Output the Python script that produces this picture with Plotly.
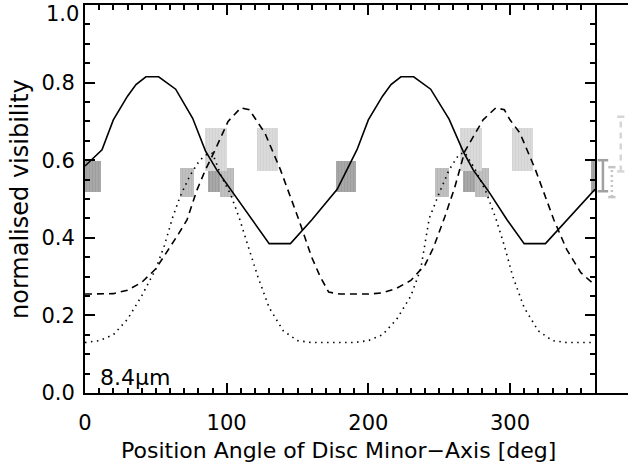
import plotly.graph_objects as go

# ---------------- data ----------------
solid_pa = [0, 12, 20, 30, 36, 43, 52, 64, 76, 85, 93, 104, 118, 130, 145, 160, 178, 180,
            192, 200, 210, 216, 223, 232, 244, 257, 267, 274, 285, 298, 310, 325, 340, 358, 360]
solid_v = [0.585, 0.627, 0.704, 0.765, 0.795, 0.815, 0.815, 0.783, 0.708, 0.624, 0.575, 0.519, 0.446, 0.385, 0.385, 0.446, 0.525, 0.54,
           0.627, 0.704, 0.765, 0.795, 0.815, 0.815, 0.783, 0.706, 0.622, 0.575, 0.519, 0.446, 0.385, 0.385, 0.446, 0.519, 0.525]

dash_pa = [0, 10, 20, 30, 40, 50, 60, 66, 72, 79, 85, 91, 101, 110, 116, 121, 127, 138, 151, 160, 166, 172, 180,
           190, 200, 210, 220, 230, 240, 246, 254, 261, 268, 274, 281, 290, 296, 300, 307, 318, 331, 340, 350, 360]
dash_v = [0.255, 0.255, 0.256, 0.265, 0.285, 0.32, 0.375, 0.41, 0.446, 0.523, 0.575, 0.62, 0.70, 0.735, 0.73, 0.704, 0.67, 0.575, 0.446, 0.35, 0.30, 0.26, 0.255,
          0.255, 0.255, 0.258, 0.27, 0.29, 0.33, 0.375, 0.454, 0.53, 0.622, 0.66, 0.704, 0.735, 0.73, 0.704, 0.67, 0.575, 0.446, 0.37, 0.31, 0.278]

dot_pa = [0, 10, 20, 30, 40, 50, 56, 62, 67, 74, 81, 86, 90, 96, 103, 109, 115, 122, 130, 140, 150, 160, 180,
          190, 200, 210, 220, 230, 237, 243, 250, 257, 264, 268, 275, 283, 290, 296, 302, 310, 320, 330, 340, 360]
dot_v = [0.13, 0.135, 0.15, 0.19, 0.25, 0.32, 0.38, 0.454, 0.505, 0.56, 0.60, 0.615, 0.618, 0.56, 0.51, 0.45, 0.38, 0.30, 0.22, 0.16, 0.135, 0.13, 0.13,
         0.13, 0.135, 0.15, 0.19, 0.25, 0.32, 0.45, 0.515, 0.575, 0.615, 0.62, 0.579, 0.519, 0.45, 0.38, 0.30, 0.22, 0.16, 0.135, 0.13, 0.13]

# observed position angles (boxes): centre, half-width, visibility range, baseline group
obs_pa = [4, 72, 91, 100, 92.5, 129]
obs_hw = [7, 5, 4, 5, 7.5, 7.5]
obs_lo = [0.518, 0.504, 0.518, 0.504, 0.571, 0.571]
obs_hi = [0.598, 0.579, 0.598, 0.579, 0.683, 0.682]
obs_grp = ["dark", "medium", "dark", "medium", "light", "light"]

# error bars in the side panel
eb_x = [0.24, 0.51, 0.78]
eb_lo = [0.520, 0.505, 0.571]
eb_hi = [0.600, 0.582, 0.712]
eb_grp = ["dark", "medium", "light"]

x_ticks = [0, 100, 200, 300]
y_ticks = [0.0, 0.2, 0.4, 0.6, 0.8, 1.0]
y_tick_text = ["0.0", "0.2", "0.4", "0.6", "0.8", ""]
top_label = "1.0"

# ---------------- styles ----------------
shade = {"dark": "#a8a8a8", "medium": "#c0c0c0", "light": "#dadada"}
stripe = {"dark": "#9c9c9c", "medium": "#b6b6b6", "light": "#d2d2d2"}
eb_col = {"dark": "#a0a0a0", "medium": "#c4c4c4", "light": "#d6d6d6"}
eb_dash = {"dark": "solid", "medium": "2px,3px", "light": "6px,5px"}
eb_cap = {"dark": 0.16, "medium": 0.11, "light": 0.11}
FONT = "DejaVu Sans"

fig = go.Figure()

# boxes, drawn at PA, PA+180 and PA+360 (wrap), order: dark, medium, light
for grp in ["dark", "medium", "light"]:
    xs, ws, bs, hs = [], [], [], []
    for pa, hw, lo, hi, g in zip(obs_pa, obs_hw, obs_lo, obs_hi, obs_grp):
        if g != grp:
            continue
        for off in (0, 180, 360):
            xs.append(pa + off)
            ws.append(2 * hw)
            bs.append(lo)
            hs.append(hi - lo)
    fig.add_trace(go.Bar(
        x=xs, y=hs, base=bs, width=ws,
        marker=dict(color=shade[grp], line=dict(width=0),
                    pattern=dict(shape="|", fgcolor=stripe[grp], bgcolor=shade[grp],
                                 size=3, solidity=0.3, fillmode="replace")),
        xaxis="x", yaxis="y", showlegend=False, hoverinfo="skip"))

# model curves
fig.add_trace(go.Scatter(x=solid_pa, y=solid_v, mode="lines",
                         line=dict(color="black", width=1.6), showlegend=False))
fig.add_trace(go.Scatter(x=dash_pa, y=dash_v, mode="lines",
                         line=dict(color="black", width=1.6, dash="7px,5px"), showlegend=False))
fig.add_trace(go.Scatter(x=dot_pa, y=dot_v, mode="lines",
                         line=dict(color="black", width=1.6, dash="1.5px,4.5px"), showlegend=False))

# side-panel error bars
for x, lo, hi, g in zip(eb_x, eb_lo, eb_hi, eb_grp):
    fig.add_trace(go.Scatter(x=[x, x], y=[lo, hi], mode="lines", xaxis="x2", yaxis="y2",
                             line=dict(color=eb_col[g], width=2.5, dash=eb_dash[g]),
                             showlegend=False, hoverinfo="skip"))
    cw = eb_cap[g]
    fig.add_trace(go.Scatter(x=[x - cw, x + cw, None, x - cw, x + cw], y=[lo, lo, None, hi, hi],
                             mode="lines", xaxis="x2", yaxis="y2",
                             line=dict(color=eb_col[g], width=2.5),
                             showlegend=False, hoverinfo="skip"))

W, H = 628, 466
ml, mr, mt, mb = 85, 0, 5, 73
pw = W - ml - mr
ph = H - mt - mb
split = 510 / pw

axis_common = dict(showgrid=False, zeroline=False, showline=True, linecolor="black", linewidth=2,
                   ticks="inside", tickcolor="black", tickwidth=2, ticklen=10, mirror="ticks",
                   automargin=False, tickfont=dict(family=FONT, size=21, color="black"))

fig.update_layout(
    width=W, height=H, margin=dict(l=ml, r=mr, t=mt, b=mb, autoexpand=False),
    paper_bgcolor="white", plot_bgcolor="white", barmode="overlay", bargap=0,
    xaxis=dict(domain=[0, split], range=[0, 360], tickvals=x_ticks,
               minor=dict(dtick=10, tick0=0, ticks="inside", ticklen=5, tickwidth=2, tickcolor="black"),
               ticklabelstandoff=10, anchor="y", **axis_common),
    yaxis=dict(domain=[0, 1], range=[0, 1], tickvals=y_ticks, ticktext=y_tick_text,
               minor=dict(dtick=0.05, tick0=0, ticks="inside", ticklen=5, tickwidth=2, tickcolor="black"),
               ticklabelstandoff=4, anchor="x", **axis_common),
    xaxis2=dict(domain=[split, 1], range=[0, 1], showgrid=False, zeroline=False, showline=True,
                linecolor="black", linewidth=2, mirror=True, showticklabels=False, ticks="",
                anchor="y2", automargin=False),
    yaxis2=dict(domain=[0, 1], range=[0, 1], visible=False, anchor="x2", automargin=False),
    annotations=[
        dict(text=top_label, xref="paper", yref="paper", x=-4 / pw, y=(mt + ph - 14) / ph,
             xanchor="right", yanchor="middle", showarrow=False,
             font=dict(family=FONT, size=21, color="black")),
        dict(text="normalised visibility", textangle=-90, xref="paper", yref="paper",
             x=(20 - ml) / pw, y=0.5, xanchor="center", yanchor="middle", showarrow=False,
             font=dict(family=FONT, size=24, color="black")),
        dict(text="Position Angle of Disc Minor\u2212Axis [deg]", xref="paper", yref="paper",
             x=(338 - ml) / pw, y=(mt + ph - 451) / ph, xanchor="center", yanchor="middle", showarrow=False,
             font=dict(family=FONT, size=22, color="black")),
        dict(text="8.4\u03bcm", xref="x", yref="y", x=9, y=0.04, xanchor="left", yanchor="middle",
             showarrow=False, font=dict(family=FONT, size=22, color="black")),
    ],
)

fig.write_html("out.html", post_script="document.body.style.margin='0';",
               config={"displayModeBar": False})
